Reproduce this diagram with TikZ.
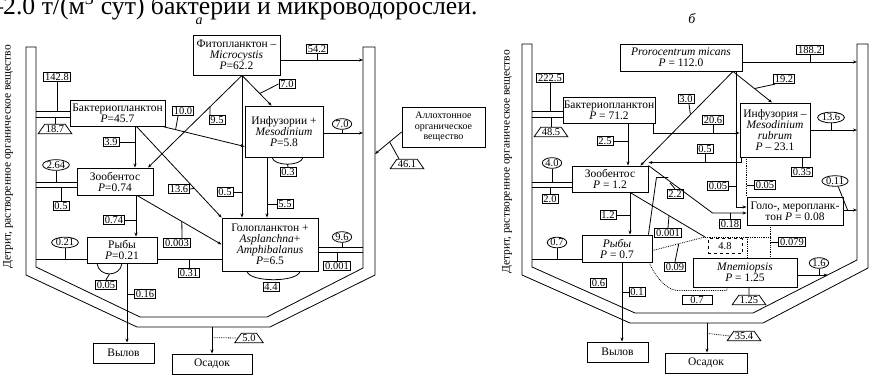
\documentclass[tikz,border=0pt]{standalone}
\usepackage{fontspec}
\setmainfont{Liberation Serif}
\usetikzlibrary{shapes.geometric,calc,arrows.meta}
\begin{document}
\begin{tikzpicture}[x=1pt,y=-1pt,
  box/.style={draw,line width=0.9pt,inner sep=0pt,align=center,font=\fontsize{11.5}{11}\selectfont},
  lab/.style={draw,line width=0.8pt,inner xsep=1.5pt,inner ysep=1.2pt,font=\fontsize{10.5}{10.5}\selectfont},
  ell/.style={draw,ellipse,line width=0.8pt,inner xsep=0.3pt,inner ysep=0.2pt,font=\fontsize{10.5}{10.5}\selectfont},
  trap/.style={draw,trapezium,trapezium left angle=55,trapezium right angle=55,line width=0.8pt,inner xsep=1pt,inner ysep=1.2pt,font=\fontsize{10.5}{10.5}\selectfont},
  fl/.style={line width=0.8pt},
  ar/.style={fl,-{Stealth[length=4pt,width=3pt]}},
  dt/.style={fl,densely dotted},
  vt/.style={rotate=90,font=\fontsize{11.5}{11.5}\selectfont,inner sep=0pt},
]
\useasboundingbox (0,0) rectangle (869,375);
\clip (0,0) rectangle (869,375);

% header line (cut by the top edge)
\node[anchor=base west,inner sep=0pt,font=\fontsize{25.7}{25.7}\selectfont] (hdr) at (-9.85,14) {–2.0 т/(м\textsuperscript{3} сут) бактерий и микроводорослей.};
\node[font=\itshape\fontsize{14}{14}\selectfont,inner sep=0pt] (la) at (199,21) {а};
\node[font=\itshape\fontsize{14}{14}\selectfont,inner sep=0pt] (lb) at (692,19) {б};

% ================= panel a =================
\draw[fl] (26,47) -- (26,275) -- (137,327) -- (270,327) -- (375,275) -- (375,47) -- (363,47) -- (363,268) -- (267,317) -- (140,317) -- (36,267) -- (36,47) -- cycle;
\coordinate (wAL) at (36,0);
\coordinate (wAR) at (363,0);
\node[vt] (vtA) at (8,157) {Детрит, растворенное органическое вещество};

\node[box,minimum width=87,minimum height=40] (phA) at (236.5,55) {Фитопланктон –\\\textit{Microcystis}\\\textit{P}=62.2};
\node[box,minimum width=95,minimum height=26] (bacA) at (117.5,113) {Бактериопланктон\\\textit{P}=45.7};
\node[box,minimum width=76,minimum height=27] (zooA) at (115,181.5) {Зообентос\\\textit{P}=0.74};
\node[box,minimum width=70,minimum height=26] (fishA) at (122,250) {Рыбы\\\textit{P}=0.21};
\node[box,minimum width=78,minimum height=51] (infA) at (284,131.5) {Инфузории +\\\textit{Mesodinium}\\\textit{P}=5.8};
\node[box,minimum width=96,minimum height=53] (golA) at (270,244.5) {Голопланктон +\\\textit{Asplanchna}+\\\textit{Amphibalanus}\\\textit{P}=6.5};
\node[box,minimum width=61,minimum height=20] (vylA) at (123.5,353) {Вылов};
\node[box,minimum width=80,minimum height=20] (osA) at (212,364) {Осадок};
\node[box,minimum width=83,minimum height=40,font=\fontsize{10}{10.5}\selectfont] (allo) at (443.5,127) {Аллохтонное\\органическое\\вещество};

% bacterioplankton -> detritus
\draw[fl] ($(bacA.west)+(0,-2)$) -- ($(bacA.west -| wAL)+(0,-2)$);
\draw[fl] ($(bacA.west)+(0,4)$) -- ($(bacA.west -| wAL)+(0,4)$);
\node[lab] (l142) at (57,77) {142.8};
\draw[fl] (l142.south) -- ($(l142.south |- bacA.west)+(0,-2)$);
\node[trap] (t187) at (55,129) {18.7};
\draw[fl] (t187.north) -- ($(t187.north |- bacA.west)+(0,4)$);
% zoobenthos -> detritus
\draw[fl] ($(zooA.west)+(0,0.5)$) -- ($(zooA.west -| wAL)+(0,0.5)$);
\draw[fl] ($(zooA.west)+(0,6)$) -- ($(zooA.west -| wAL)+(0,6)$);
\node[ell] (e264) at (56,165) {2.64};
\draw[fl] (e264.south) -- ($(e264.south |- zooA.west)+(0,0.5)$);
\node[lab] (l05a) at (61,206) {0.5};
\draw[fl] (l05a.north) -- ($(l05a.north |- zooA.west)+(0,6)$);
% fish -> detritus
\draw[fl] ($(fishA.west)+(0,9)$) -- ($(fishA.west -| wAL)+(0,9)$);
\node[ell] (e021) at (65,242.5) {0.21};
\draw[fl] (e021.south) -- ($(e021.south |- fishA.west)+(0,9)$);
\draw[fl] ($(fishA.south)+(-25,0)$) .. controls +(2,14) and +(-2,14) .. (fishA.south);
\node[lab] (l005) at (106,285) {0.05};
\draw[fl] (l005.north) -- ($(fishA.south)+(-12.5,10.5)$);
% fish -> catch
\draw[ar] ($(fishA.south)+(5,0)$) -- ($(vylA.north)+(3.5,0)$);
\node[lab] (l016) at (145,294) {0.16};
\draw[fl] (l016.west) -- ($(l016.west -| fishA.south)+(5,0)$);
% bacterio -> zoobenthos
\draw[ar] ($(bacA.south)+(17.5,0)$) -- ($(zooA.north)+(20,0)$);
\node[lab] (l39) at (111,142) {3.9};
\draw[fl] (l39.east) -- ($(l39.east -| bacA.south)+(17.5,0)$);
% zoobenthos -> fish
\draw[ar] ($(zooA.south)+(21,0)$) -- ($(fishA.north)+(14,0)$);
\node[lab] (l074) at (114,220) {0.74};
\draw[fl] (l074.east) -- ($(l074.east -| zooA.south)+(21,0)$);
% bacterio -> infusoria
\draw[ar] ($(bacA.south east)+(-3,0)$) -- coordinate[pos=0.16] (m100) ($(infA.west)+(0,15)$);
\node[lab] (l100) at (183,111) {10.0};
\draw[fl] ($(l100.south)+(-5,0)$) -- (m100);
% phyto -> zoobenthos
\draw[ar] ($(phA.south)+(5.5,0)$) -- coordinate[pos=0.34] (m95) ($(zooA.north)+(33,0)$);
\node[lab] (l95) at (217,120) {9.5};
\draw[fl] ($(l95.north)+(-7,0)$) -- (m95);
% bacterio -> holoplankton
\draw[ar] ($(bacA.south)+(19,0)$) -- coordinate[pos=0.68] (m136) (golA.north west);
\node[lab] (l136) at (179,189) {13.6};
\draw[fl] (l136.east) -- (m136);
% phyto -> holoplankton
\draw[ar] ($(phA.south)+(5.5,0)$) -- ($(golA.north)+(-28,0)$);
\node[lab] (l05b) at (225,192) {0.5};
\draw[fl] (l05b.east) -- ($(l05b.east -| phA.south)+(5.5,0)$);
% phyto -> infusoria
\draw[ar] ($(phA.south)+(5.5,0)$) -- coordinate[pos=0.6] (m70) ($(infA.north west)+(27,0)$);
\node[lab] (l70r) at (287,84) {7.0};
\draw[fl] (l70r.west) -- (m70);
% phyto -> detritus
\draw[ar] ($(phA.east)+(0,5)$) -- ($(phA.east -| wAR)+(0,5)$);
\node[lab] (l542) at (317,49) {54.2};
\draw[fl] (l542.south) -- ($(l542.south |- phA.east)+(0,5)$);
% infusoria -> holoplankton
\draw[ar] ($(infA.south)+(-17,0)$) -- ($(golA.north)+(-3,0)$);
\node[lab] (l55) at (285,204) {5.5};
\draw[fl] (l55.west) -- ($(l55.west -| infA.south)+(-17,0)$);
% infusoria self loop
\draw[fl] ($(infA.south)+(-12,0)$) .. controls +(2,9) and +(-2,9) .. ($(infA.south)+(19,0)$);
\node[lab] (l03) at (288,172) {0.3};
\draw[fl] (l03.north) -- ($(infA.south)+(3.5,6.75)$);
% infusoria -> detritus
\draw[ar] ($(infA.east)+(0,1.5)$) -- ($(infA.east -| wAR)+(0,1.5)$);
\node[ell] (e70) at (342,124) {7.0};
\draw[fl] (e70.south) -- ($(e70.south |- infA.east)+(0,1.5)$);
% zoobenthos -> holoplankton
\draw[ar] ($(zooA.south)+(22,0)$) -- coordinate[pos=0.53] (m0003) (golA.west);
\node[lab] (l0003) at (177,243) {0.003};
\draw[fl] ($(l0003.north)+(5,0)$) -- (m0003);
% fish - holoplankton
\draw[fl] ($(fishA.east)+(0,9)$) -- ($(fishA.east -| golA.west)+(0,9)$);
\node[lab] (l031) at (189,273) {0.31};
\draw[fl] (l031.north) -- ($(l031.north |- fishA.east)+(0,9)$);
% holoplankton -> detritus
\draw[fl] ($(golA.east)+(0,2.5)$) -- ($(golA.east -| wAR)+(0,2.5)$);
\draw[fl] ($(golA.east)+(0,7.5)$) -- ($(golA.east -| wAR)+(0,7.5)$);
\node[ell] (e96) at (342,237) {9.6};
\draw[fl] (e96.south) -- ($(e96.south |- golA.east)+(0,2.5)$);
\node[lab] (l0001) at (337,266) {0.001};
\draw[fl] (l0001.north) -- ($(l0001.north |- golA.east)+(0,7.5)$);
% holoplankton self loop
\draw[fl] ($(golA.south)+(-23,0)$) .. controls +(3,11) and +(-3,11) .. ($(golA.south)+(30,0)$);
\node[lab] (l44) at (271,287) {4.4};
% allochthonous input
\coordinate (wAo) at (375,154);
\draw[ar] ($(allo.west)+(0,5)$) -- coordinate[pos=0.45] (m461) (wAo);
\node[trap] (t461) at (407,164) {46.1};
\draw[fl] ($(t461.north)+(-8,0)$) -- (m461);
% sedimentation
\coordinate (bA) at (212,327);
\draw[ar] (bA) -- coordinate[pos=0.4] (m50) (osA.north);
\node[trap] (t50) at (249,338) {5.0};
\draw[fl,densely dotted] (m50) -- (t50.west);

% ================= panel b =================
\draw[fl] (522,44) -- (522,275) -- (630,323) -- (763,323) -- (868,268) -- (868,44) -- (857,44) -- (857,260) -- (753,313) -- (635,313) -- (532,267) -- (532,44) -- cycle;
\coordinate (wBL) at (532,0);
\coordinate (wBR) at (857,0);
\node[vt] (vtB) at (507,162) {Детрит, растворенное органическое вещество};

\node[box,minimum width=122,minimum height=27] (proB) at (681,57.5) {\textit{Prorocentrum micans}\\\textit{P} = 112.0};
\node[box,minimum width=92,minimum height=26] (bacB) at (609,110) {Бактериопланктон\\\textit{P} = 71.2};
\node[box,minimum width=76,minimum height=26] (zooB) at (610,179) {Зообентос\\\textit{P} = 1.2};
\node[box,minimum width=70,minimum height=27] (fishB) at (617,248.5) {\textit{Рыбы}\\\textit{P} = 0.7};
\node[box,minimum width=70,minimum height=54] (infB) at (775,130) {Инфузория –\\\textit{Mesodinium}\\\textit{rubrum}\\\textit{P} – 23.1};
\node[box,minimum width=96,minimum height=28] (golB) at (795,211) {Голо-, меропланк-\\тон \textit{P} = 0.08};
\node[box,minimum width=104,minimum height=29] (mneB) at (745,272.5) {\textit{Mnemiopsis}\\\textit{P} = 1.25};
\node[box,minimum width=61,minimum height=20] (vylB) at (617.5,352) {Вылов};
\node[box,minimum width=82,minimum height=20] (osB) at (706,363) {Осадок};

% bacterio -> detritus
\draw[fl] ($(bacB.west)+(0,1)$) -- ($(bacB.west -| wBL)+(0,1)$);
\draw[fl] ($(bacB.west)+(0,7)$) -- ($(bacB.west -| wBL)+(0,7)$);
\node[lab] (l2225) at (550,78) {222.5};
\draw[fl] (l2225.south) -- ($(l2225.south |- bacB.west)+(0,1)$);
\node[trap] (t485) at (551,132) {48.5};
\draw[fl] (t485.north) -- ($(t485.north |- bacB.west)+(0,7)$);
% zoobenthos -> detritus
\draw[fl] ($(zooB.west)+(0,3)$) -- ($(zooB.west -| wBL)+(0,3)$);
\draw[fl] ($(zooB.west)+(0,8)$) -- ($(zooB.west -| wBL)+(0,8)$);
\node[ell] (e40) at (552,163) {4.0};
\draw[fl] (e40.south) -- ($(e40.south |- zooB.west)+(0,3)$);
\node[lab] (l20) at (550,199) {2.0};
\draw[fl] (l20.north) -- ($(l20.north |- zooB.west)+(0,8)$);
% fish -> detritus
\draw[fl] ($(fishB.west)+(0,10.5)$) -- ($(fishB.west -| wBL)+(0,10.5)$);
\node[ell] (e07) at (557,242.5) {0.7};
\draw[fl] (e07.south) -- ($(e07.south |- fishB.west)+(0,10.5)$);
% bacterio -> zoobenthos
\draw[ar] ($(bacB.south)+(19,0)$) -- ($(zooB.north)+(18,0)$);
\node[lab] (l25) at (605,141) {2.5};
\draw[fl] (l25.east) -- ($(l25.east -| bacB.south)+(19,0)$);
% zoobenthos -> fish
\draw[ar] ($(zooB.south)+(20,0)$) -- ($(fishB.north)+(13,0)$);
\node[lab] (l12) at (608,215) {1.2};
\draw[fl] (l12.east) -- ($(l12.east -| zooB.south)+(20,0)$);
% prorocentrum -> detritus
\draw[ar] ($(proB.east)+(0,4.5)$) -- ($(proB.east -| wBR)+(0,4.5)$);
\node[lab] (l1882) at (810,50) {188.2};
\draw[fl] (l1882.south) -- ($(l1882.south |- proB.east)+(0,4.5)$);
% prorocentrum -> infusoria
\draw[ar] ($(proB.south)+(52,0)$) -- coordinate[pos=0.55] (m192) ($(infB.north)+(-3,0)$);
\node[lab] (l192) at (784,79) {19.2};
\draw[fl] ($(l192.south west)+(2,0)$) -- (m192);
% prorocentrum -> zoobenthos
\draw[ar] ($(proB.south)+(52,0)$) -- coordinate[pos=0.46] (m30) ($(zooB.north east)+(-8,0)$);
\node[lab] (l30) at (686,99) {3.0};
\draw[fl] ($(l30.south)+(3,0)$) -- (m30);
% prorocentrum -> holo/meroplankton
\draw[ar] ($(proB.south)+(55,0)$) |- ($(golB.west)+(0,-4)$);
\node[lab] (l005b) at (718,186) {0.05};
\draw[fl] (l005b.east) -- ($(l005b.east -| proB.south)+(55,0)$);
% bacterio -> infusoria
\draw[ar] ($(bacB.south east)+(-2,0)$) |- ($(infB.west)+(0,3)$);
\node[lab] (l206) at (713,120) {20.6};
\draw[fl] (l206.south) -- ($(l206.south |- infB.west)+(0,3)$);
% infusoria -> zoobenthos
\draw[ar] ($(infB.south west)+(2,0)$) |- ($(zooB.north east)+(0,-3)$);
\node[lab] (l05c) at (705,149) {0.5};
\draw[fl] (l05c.south) -- ($(l05c.south |- zooB.north east)+(0,-3)$);
% infusoria -> holo/meroplankton (dotted)
\draw[dt] ($(infB.south west)+(7,0)$) -- (golB.north west);
\node[lab] (l005c) at (765,185) {0.05};
\draw[fl] (l005c.west) -- (l005c.west -| golB.north west);
% infusoria -> detritus
\draw[ar] (infB.east) -- (infB.east -| wBR);
\node[ell] (e136) at (831,117.5) {13.6};
\draw[fl] (e136.south) -- (e136.south |- infB.east);
\node[lab] (l035) at (802,172) {0.35};
\draw[fl] (l035.north) -- (l035.north |- infB.south);
% holo/meroplankton -> detritus
\draw[ar] ($(golB.east)+(0,-1)$) -- coordinate[pos=0.3] (m011) ($(golB.east -| wBR)+(0,-1)$);
\node[ell] (e011) at (835,181) {0.11};
\draw[fl] (e011.-60) -- (m011);
% zoobenthos -> holo/meroplankton
\draw[ar] (zooB.north east) -- ($(golB.west)+(-34,2)$) -- ($(golB.west)+(0,2)$);
\node[lab] (l018) at (730,224) {0.18};
\draw[fl] (l018.north) -- ($(l018.north |- golB.west)+(0,2)$);
% feeding of Mnemiopsis
\coordinate (jB) at (705,237);
\draw[fl] ($(zooB.south)+(20,0)$) -- coordinate[pos=0.52] (m0001) (jB);
\node[lab] (l0001b) at (668,233) {0.001};
\draw[fl] (l0001b.north) -- (m0001);
\draw[dt] ($(fishB.east)+(0,2)$) -- coordinate[pos=0.5] (m009) (jB);
\node[lab] (l009) at (675,267) {0.09};
\draw[fl] (l009.north) -- (m009);
\draw[dt] (jB) -- ($(jB -| golB.south)+(-25,0)$);
\draw[dt] ($(golB.south)+(-25,0)$) -- coordinate[pos=0.5] (m079) ($(mneB.north)+(25,0)$);
\node[lab] (l0079) at (792,242) {0.079};
\draw[fl] (l0079.west) -- (l0079.west -| m079);
\node[lab,dashed,minimum width=34,minimum height=15] (l48) at (725,246) {4.8};
\draw[dt] ($(jB -| mneB.north)+(2,0)$) -- ($(mneB.north)+(2,0)$);
% Mnemiopsis -> fish (dotted)
\draw[dt] ($(mneB.south)+(-18,0)$) -- ++(0,3) -- ($(fishB.south east)+(25,28)$) .. controls +(-12,0) and +(3,10) .. ($(fishB.south east)+(-3,0)$);
\node[lab,minimum width=30] (l07b) at (697,300) {0.7};
\node[trap] (t125) at (749,300) {1.25};
\draw[fl] (t125.north) -- ($(mneB.south)+(4,0)$);
% Mnemiopsis -> detritus
\coordinate (wBm) at (827.6,275);
\draw[ar] ($(mneB.east)+(0,2.5)$) -- (wBm);
\node[ell] (e16) at (819,263) {1.6};
\draw[fl] (e16.south) -- ($(e16.south |- mneB.east)+(0,2.5)$);
% fish -> catch
\draw[ar] ($(fishB.south)+(5,0)$) -- ($(vylB.north)+(4.5,0)$);
\node[lab] (l01) at (637,292) {0.1};
\draw[fl] (l01.west) -- ($(l01.west -| fishB.south)+(5,0)$);
\node[lab] (l06) at (598.5,283) {0.6};
% 2.2
\draw[fl] ($(fishB.north east)+(-4,0)$) -- ($(zooB.south east)+(8,-15)$) -- ++(12,0);
\node[lab] (l22) at (675,194) {2.2};
\draw[fl] (l22.north) -- ++(-5,-6);
% sedimentation
\coordinate (bB) at (707,323);
\draw[ar] (bB) -- coordinate[pos=0.35] (m354) ($(osB.north)+(1,0)$);
\node[trap] (t354) at (744,336) {35.4};
\draw[fl,densely dotted] (m354) -- (t354.west);
\end{tikzpicture}
\end{document}
